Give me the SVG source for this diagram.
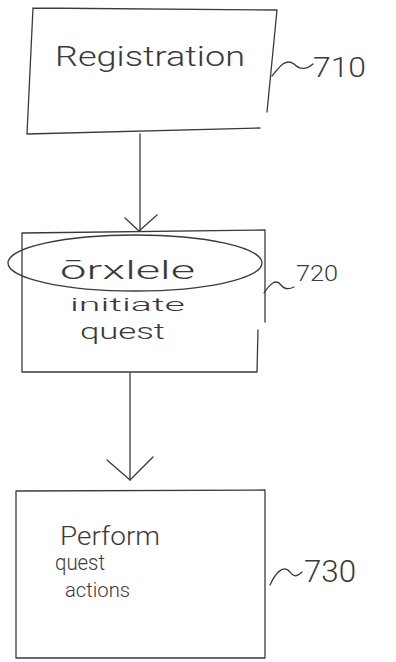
<svg xmlns="http://www.w3.org/2000/svg" width="396" height="662" viewBox="0 0 396 662">
<style>
.ln{fill:none;stroke:#3a3a3a;stroke-width:1.3;stroke-linecap:round;stroke-linejoin:round}
.tx{font-family:Roboto,"Liberation Sans","DejaVu Sans",sans-serif;font-weight:300;fill:#3a3a3a}
</style>
<rect width="396" height="662" fill="#fff"/>
<g id="connectors">
<path class="ln" d="M140,134 L140,231"/>
<path class="ln" d="M125,218 L139,231 L157,215"/>
<path class="ln" d="M130,373 L130,480"/>
<path class="ln" d="M107,460 L130,480 L153,457"/>
</g>
<g id="node710">
<path class="ln" d="M33,8 L277,10 L267,112 M260,128 L27,134 L33,8"/>
<text class="tx" x="55" y="66" font-size="28" textLength="190" lengthAdjust="spacingAndGlyphs">Registration</text>
<path class="ln" d="M272,76 C280,66 286,58 294,64 C300,70 306,70 313,64"/>
<text class="tx" x="313" y="77" font-size="28" textLength="53" lengthAdjust="spacingAndGlyphs">710</text>
</g>
<g id="node720">
<path class="ln" d="M22,233 L265,230 L265,322 M258,330 L257,372 L22,372 L22,233"/>
<ellipse class="ln" cx="135" cy="263" rx="127" ry="28" stroke-width="1.6"/>
<text class="tx" x="60" y="279" font-size="26" textLength="135" lengthAdjust="spacingAndGlyphs">ōrxlele</text>
<text class="tx" x="70" y="311" font-size="18" textLength="115" lengthAdjust="spacingAndGlyphs">initiate</text>
<text class="tx" x="80" y="339" font-size="22" textLength="85" lengthAdjust="spacingAndGlyphs">quest</text>
<path class="ln" d="M264,293 C270,284 276,278 281,285 C285,290 290,289 294,287"/>
<text class="tx" x="296" y="281" font-size="22" textLength="42" lengthAdjust="spacingAndGlyphs">720</text>
</g>
<g id="node730">
<path class="ln" d="M16,491 L265,490 L265,658 L16,658 Z"/>
<text class="tx" x="60" y="545" font-size="26" textLength="100" lengthAdjust="spacingAndGlyphs">Perform</text>
<text class="tx" x="55" y="570" font-size="22" textLength="50" lengthAdjust="spacingAndGlyphs">quest</text>
<text class="tx" x="65" y="597" font-size="20" textLength="65" lengthAdjust="spacingAndGlyphs">actions</text>
<path class="ln" d="M270,585 C276,572 284,564 290,572 C294,578 298,576 302,572"/>
<text class="tx" x="304" y="582" font-size="32" textLength="52" lengthAdjust="spacingAndGlyphs">730</text>
</g>
</svg>
